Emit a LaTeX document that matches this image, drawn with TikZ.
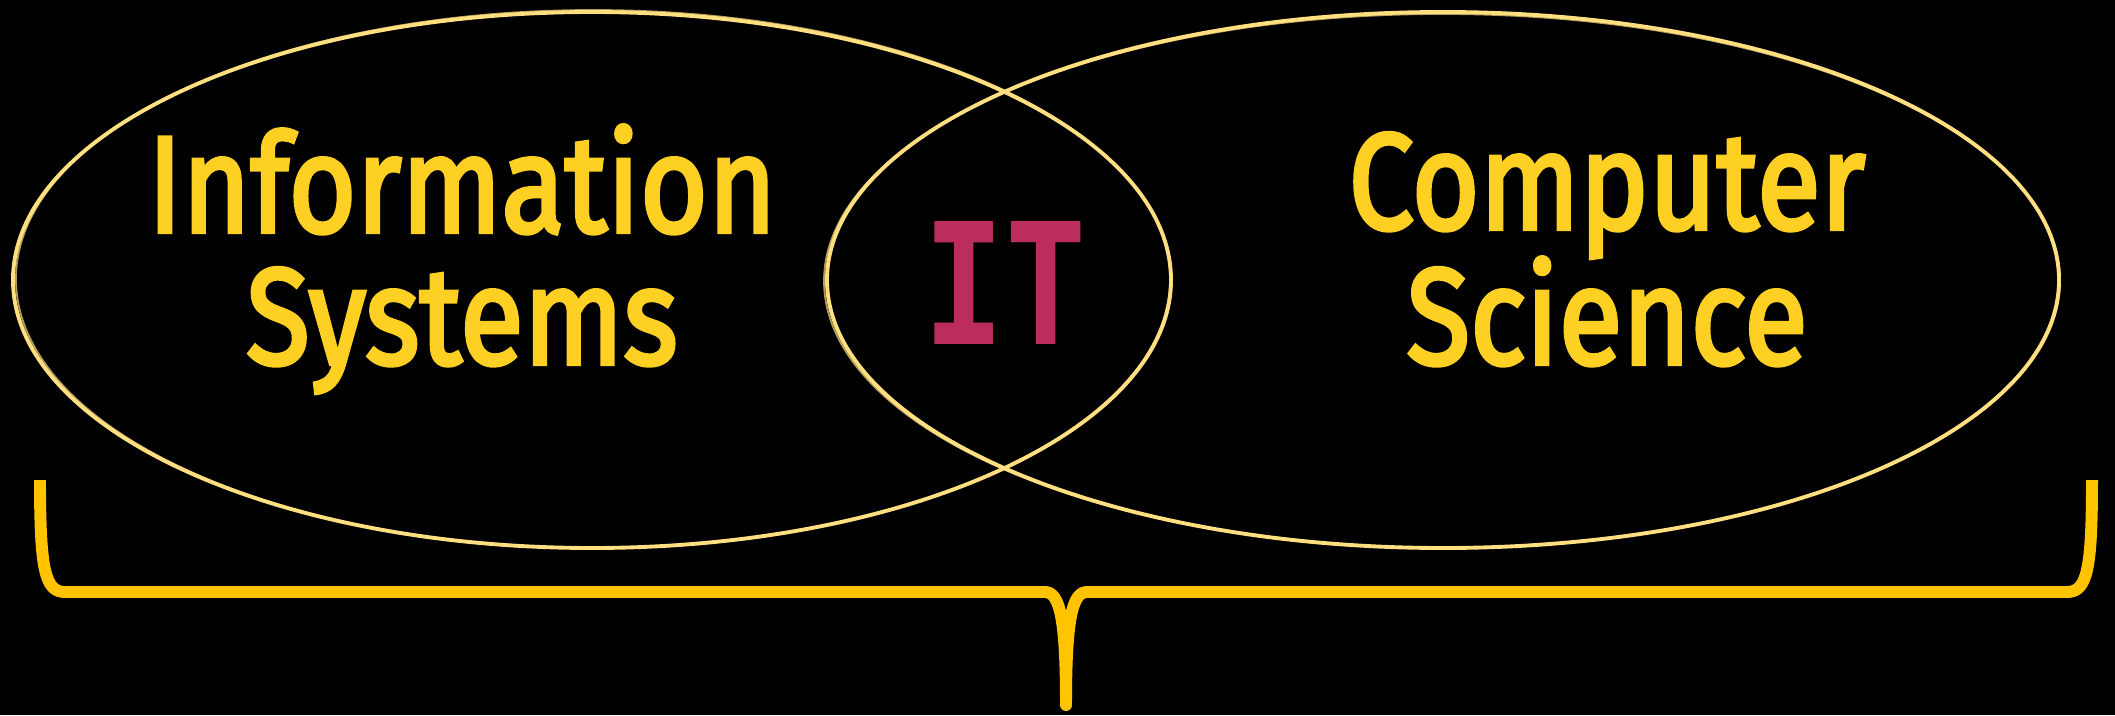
\documentclass[tikz,border=0pt]{standalone}
\usepackage{fontspec}
\usepackage{tikz}
\setmainfont{Fira Sans}
\newfontfamily\lblfont{Fira Sans}[FakeBold=3]
\newfontfamily\itfont{DejaVu Sans Mono}
\definecolor{lbltext}{HTML}{FDD023}
\definecolor{ringline}{HTML}{FFDF80}
\definecolor{bracecol}{HTML}{FFC300}
\definecolor{itcol}{HTML}{BB2D5C}

\begin{document}
\begin{tikzpicture}
	[x=0.01cm, y=-0.01cm,
	 ring/.style={draw=ringline, line width=1.1pt},
	 ringb/.style={draw=ringline, line width=0.5pt, opacity=0.7},
	 lbl/.style={text=lbltext, font=\fontsize{39}{42}\lblfont, anchor=base, inner sep=0pt, xscale=0.85},
	 brace/.style={draw=bracecol, line width=3.4pt, line join=round}]
	\fill[black] (0,0) rectangle (2115,715);
	\useasboundingbox (0,0) rectangle (2115,715);
	% the two sets
	\draw[ring] (592,280) ellipse [x radius=579, y radius=268];
	\draw[ringb] (593,279) ellipse [x radius=577, y radius=269];
	\draw[ring] (1443,280) ellipse [x radius=616, y radius=268];
	\draw[ringb] (1442,281) ellipse [x radius=618, y radius=267];
	\node[lbl] (info) at (462,232) {Information};
	\node[lbl] (sys) at (462,364) {Systems};
	\node[lbl] (comp) at (1607,229) {Computer};
	\node[lbl] (sci) at (1607,364) {Science};
	\node[text=itcol, font=\fontsize{48}{50}\itfont\bfseries, anchor=base, inner sep=0pt, xscale=0.8] (it) at (1005,344) {IT};
	% brace below
	\coordinate (bl) at (40,480);
	\coordinate (br) at (2092,480);
	\coordinate (tip) at (1066,705);
	\draw[brace] (bl) .. controls (40,570) and (45,592) .. (65,592) -- (1045,592)
		.. controls (1060,592) and (1066,620) .. (tip);
	\draw[brace] (br) .. controls (2092,570) and (2087,592) .. (2067,592) -- (1087,592)
		.. controls (1072,592) and (1066,620) .. (tip);
	\fill[bracecol] (tip) circle (6);
\end{tikzpicture}
\end{document}
